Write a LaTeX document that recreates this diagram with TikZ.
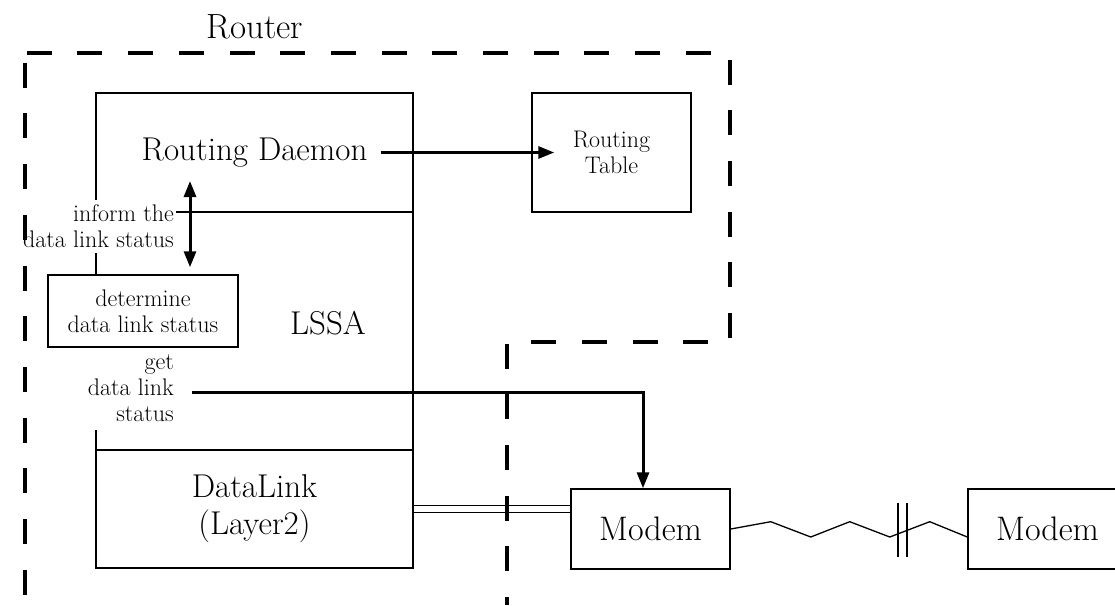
\documentclass[tikz,border=0pt]{standalone}
\usepackage{amsmath}
\usepackage{xcolor}
\usepackage{tikz}
\usetikzlibrary{arrows.meta}

\begin{document}
\begin{tikzpicture}[x=1pt,y=-1pt,
	box/.style={draw,line width=1.5pt,fill=white,inner sep=0pt},
	bigtext/.style={font=\fontsize{33}{37}\selectfont,align=center},
	smalltext/.style={font=\fontsize{24}{26}\selectfont,align=center},
	note/.style={smalltext,align=right,fill=white,inner xsep=2pt},
	arrow/.style={line width=3pt,-{Triangle[length=16pt,width=12pt]}},
	dblarrow/.style={line width=3pt,{Triangle[length=16pt,width=12pt]}-{Triangle[length=16pt,width=12pt]}},
	wire/.style={line width=1.3pt},
	border/.style={line width=4pt,dash pattern=on 25pt off 25.7pt}]

	\useasboundingbox (0,0) rectangle (1115,605);
	\clip (0,0) rectangle (1115,605);

	\node[bigtext,font=\fontsize{35}{37}\selectfont] (router) at (255,27) {Router};

	\node[box,bigtext,minimum width=317pt,minimum height=119pt] (daemon) at (254.5,152.5) {Routing Daemon};
	\node[box,minimum width=317pt,minimum height=238pt] (lssa) at (254.5,331) {};
	\node[box,bigtext,minimum width=317pt,minimum height=118pt] (datalink) at (254.5,509) {DataLink\\(Layer2)};
	\node[bigtext] (lssalbl) at (328,323) {LSSA};

	\node[box,smalltext,minimum width=159pt,minimum height=119pt] (table) at (611.5,152.5) {Routing\\Table};

	\node[note,anchor=east,inner ysep=5pt] (inform) at (176,226.5) {inform the\\data link status};
	\node[note,anchor=north east,inner ysep=8pt] (getlbl) at (176,347) {get\\data link\\status};
	\node[box,smalltext,minimum width=190pt,minimum height=72pt] (det) at (143,311) {determine\\data link status};

	\node[box,bigtext,font=\fontsize{34}{37}\selectfont,minimum width=159pt,minimum height=80pt] (modem1) at (650.5,529) {Modem};
	\node[box,bigtext,font=\fontsize{34}{37}\selectfont,minimum width=159pt,minimum height=80pt] (modem2) at (1047.5,529) {Modem};

	\draw[arrow] ([xshift=-33pt]daemon.east) -- ([xshift=23pt]table.west);
	\draw[dblarrow] ([xshift=-64.5pt,yshift=-28.5pt]daemon.center) -- ([xshift=47pt,yshift=7pt]det.north);
	\draw[arrow] ([xshift=16pt,yshift=-3.5pt]getlbl.east) -| ([xshift=-7.5pt]modem1.north);

	\draw[line width=1pt,double distance=6pt] (datalink.east) -- (datalink.east -| modem1.west);

	\draw[wire] (modem1.east) -- ++(40,-7.3) -- ++(40,15.3) -- ++(39,-15.3) -- ++(40,15.3) -- ++(40,-15.3) -- ([yshift=-8pt]modem2.west);
	\draw[wire] (898,503) -- (898,557) (907,503) -- (907,557);

	\draw[border,dash phase=17pt] (507,605) -- (507,342) -- (730,342) -- (730,53) -- (25,53);
	\draw[border,dash phase=41pt] (25,53) -- (25,605);
\end{tikzpicture}
\end{document}
